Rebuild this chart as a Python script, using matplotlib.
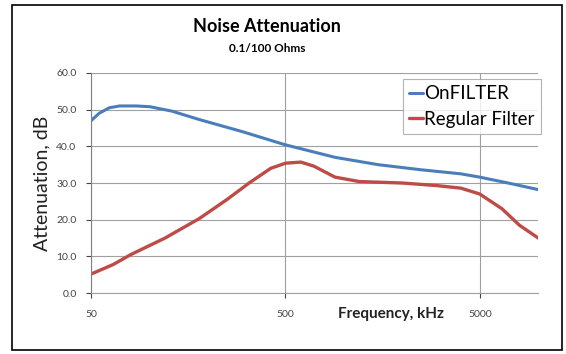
import matplotlib.pyplot as plt
from matplotlib.patches import Rectangle

plt.rcParams['font.family'] = ['Lato', 'DejaVu Sans']

# frequency (kHz) and attenuation (dB)
freq_on = [50, 55, 62, 70, 85, 100, 130, 180, 300, 500, 900, 1500, 2500, 4000, 5000, 7000, 10000]
att_on = [47.0, 49.0, 50.5, 51.0, 51.0, 50.8, 49.6, 47.3, 44.0, 40.4, 37.0, 35.0, 33.6, 32.5, 31.6, 30.0, 28.2]

freq_reg = [50, 65, 80, 120, 180, 250, 325, 420, 500, 600, 700, 900, 1200, 2000, 3000, 4000, 5000, 6500, 8000, 10000]
att_reg = [5.2, 7.8, 10.5, 15.0, 20.3, 25.5, 30.0, 34.0, 35.4, 35.7, 34.6, 31.6, 30.4, 30.0, 29.3, 28.6, 27.0, 23.0, 18.5, 15.0]

xticks = [50, 500, 5000]
yticks = [0, 10, 20, 30, 40, 50, 60]

fig = plt.figure(figsize=(5.66, 3.54), dpi=100)
ax = fig.add_axes([0.161, 0.172, 0.790, 0.622])

ax.plot(freq_on, att_on, color='#4a7ebb', lw=2.2, label='OnFILTER', solid_capstyle='round')
ax.plot(freq_reg, att_reg, color='#be4b48', lw=2.4, label='Regular Filter', solid_capstyle='round')

ax.set_xscale('log')
ax.set_xlim(50, 10000)
ax.set_ylim(0, 60)
ax.set_xticks(xticks)
ax.set_xticklabels([str(t) for t in xticks])
ax.minorticks_off()
ax.set_yticks(yticks)
ax.set_yticklabels(['%.1f' % t for t in yticks])
ax.tick_params(labelsize=7.5, colors='#444444', length=3.5, width=0.8, pad=7)
ax.tick_params(axis='x', pad=9)

ax.grid(True, color='#a0a0a0', lw=0.8)
ax.set_axisbelow(True)
for s in ['top', 'right']:
    ax.spines[s].set_visible(False)
ax.spines['left'].set_color('#808080')
ax.spines['bottom'].set_color('#a0a0a0')

ax.set_ylabel('Attenuation, dB', fontsize=14, color='#222222', labelpad=4)
ax.text(0.67, -0.065, 'Frequency, kHz', transform=ax.transAxes, ha='center', va='top',
        fontsize=11, fontweight='bold', color='#222222')

leg = ax.legend(loc='upper right', bbox_to_anchor=(1.007, 0.973), fontsize=13.5, frameon=True,
                fancybox=False, edgecolor='#a0a0a0', handlelength=0.7, handletextpad=0.1,
                borderpad=0.35, labelspacing=0.45, borderaxespad=0)
leg.get_frame().set_linewidth(0.8)

fig.text(0.472, 0.925, 'Noise Attenuation', ha='center', va='center', fontsize=13, fontweight='bold')
fig.text(0.472, 0.863, '0.1/100 Ohms', ha='center', va='center', fontsize=8.5, fontweight='bold')

fig.patches.append(Rectangle((0.021, 0.012), 0.972, 0.974, transform=fig.transFigure,
                             fill=False, edgecolor='black', lw=1.2))

fig.savefig('out.png', dpi=100)
